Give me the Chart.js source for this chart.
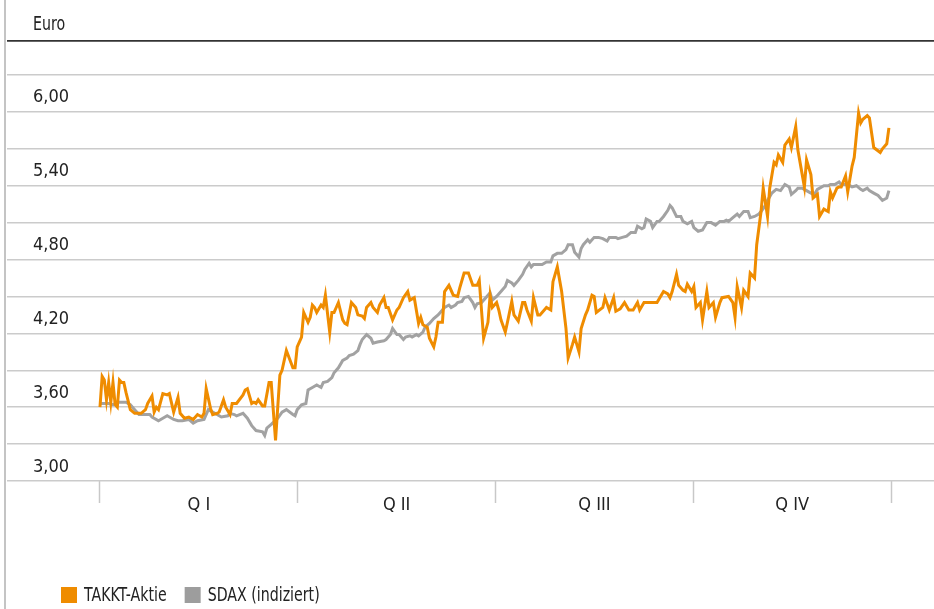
<!DOCTYPE html>
<html>
<head>
<meta charset="utf-8">
<script src="https://cdn.jsdelivr.net/npm/chart.js@4.4.1/dist/chart.umd.min.js"></script>
<style>
  html, body { margin: 0; padding: 0; background: #fff; }
  canvas { display: block; }
</style>
</head>
<body>
<canvas id="Graph" width="934" height="609"></canvas>
<script>
const FONT = "'DejaVu Sans Condensed', 'Liberation Sans', sans-serif";
const SQUEEZE = 0.83; // the original uses a very narrow face

const seriesNames = ['TAKKT-Aktie', 'SDAX (indiziert)'];
const quarterLabels = ['Q I', 'Q II', 'Q III', 'Q IV'];
const yTickLabels = ['3,00', '3,60', '4,20', '4,80', '5,40', '6,00'];

// day of year -> closing price in euro
const takktDays = [0,1,2,3,4,5,6,7,8,9,10,11,12,14,16,19,21,22,24,25,26,27,29,31,32,34,36,37,39,41,43,45,47,48,49,51,52,54,55,57,58,60,61,63,66,67,68,70,71,72,73,75,76,78,79,81,83,84,86,89,90,91,93,94,96,97,98,99,100,102,103,104,106,107,108,109,110,112,113,114,116,118,119,121,122,123,125,126,128,129,131,132,133,135,137,138,140,142,143,145,147,148,149,151,152,154,155,156,158,159,161,163,165,166,168,170,172,174,175,177,179,180,181,183,184,185,187,188,190,191,193,195,196,197,199,200,202,203,205,206,208,209,211,213,215,216,218,219,221,222,224,225,227,228,229,232,233,235,237,238,240,242,244,246,248,249,251,253,257,260,262,263,264,266,267,269,270,271,273,274,275,277,278,280,281,283,284,286,287,290,292,293,294,296,297,299,300,302,303,305,306,308,309,311,312,313,315,316,318,319,321,322,324,325,326,328,329,331,332,334,336,337,338,340,341,342,344,345,347,348,350,351,352,354,355,357,360,361,363,364];
const takktEuro = [3.60,3.85,3.82,3.66,3.80,3.64,3.80,3.62,3.60,3.82,3.80,3.80,3.72,3.58,3.55,3.55,3.58,3.63,3.69,3.56,3.60,3.58,3.71,3.70,3.71,3.56,3.68,3.55,3.51,3.52,3.50,3.54,3.52,3.55,3.75,3.59,3.54,3.55,3.56,3.66,3.60,3.54,3.63,3.63,3.70,3.74,3.75,3.63,3.64,3.63,3.66,3.61,3.61,3.80,3.80,3.33,3.86,3.90,4.06,3.92,3.92,4.09,4.17,4.37,4.29,4.33,4.43,4.41,4.37,4.43,4.41,4.51,4.21,4.37,4.37,4.41,4.45,4.31,4.28,4.27,4.45,4.41,4.35,4.34,4.32,4.41,4.45,4.41,4.37,4.43,4.49,4.41,4.41,4.31,4.39,4.41,4.49,4.54,4.47,4.49,4.28,4.33,4.27,4.25,4.16,4.09,4.17,4.29,4.29,4.54,4.59,4.51,4.50,4.57,4.69,4.69,4.59,4.59,4.63,4.16,4.29,4.51,4.41,4.45,4.39,4.31,4.21,4.29,4.46,4.35,4.30,4.45,4.45,4.39,4.30,4.49,4.35,4.35,4.39,4.41,4.39,4.62,4.74,4.54,4.24,4.00,4.11,4.17,4.05,4.24,4.35,4.39,4.51,4.50,4.37,4.41,4.49,4.39,4.49,4.38,4.40,4.45,4.39,4.39,4.45,4.39,4.45,4.45,4.45,4.54,4.52,4.49,4.54,4.68,4.59,4.55,4.54,4.60,4.54,4.58,4.41,4.45,4.31,4.54,4.41,4.45,4.33,4.45,4.49,4.50,4.45,4.33,4.58,4.41,4.55,4.50,4.69,4.65,4.92,5.19,5.38,5.15,5.38,5.59,5.57,5.65,5.59,5.73,5.78,5.71,5.88,5.69,5.49,5.39,5.61,5.49,5.30,5.33,5.15,5.21,5.19,5.35,5.30,5.38,5.39,5.39,5.48,5.35,5.56,5.63,5.99,5.91,5.94,5.97,5.95,5.71,5.67,5.70,5.74,5.87];

const sdaxDays = [0,1,4,6,8,12,14,16,18,21,23,24,27,29,31,34,36,38,41,43,45,48,50,52,54,56,59,60,62,63,66,68,70,72,75,76,77,79,82,84,86,89,90,91,93,95,96,98,100,102,103,105,107,108,110,112,114,115,117,119,120,121,123,125,126,128,131,132,134,135,137,138,140,141,143,144,146,147,149,150,152,154,156,157,159,161,162,164,165,167,168,170,172,173,174,176,178,180,181,183,185,187,188,190,191,193,195,196,198,199,200,202,204,206,208,209,211,213,215,216,218,219,221,222,223,225,226,228,230,232,234,235,238,239,241,243,245,247,248,250,251,252,254,255,257,258,260,262,263,264,266,268,269,271,273,274,276,278,280,282,284,286,288,289,290,292,294,295,297,299,300,302,304,305,307,308,310,312,314,316,318,319,321,322,324,325,327,329,330,331,334,336,337,339,341,342,345,347,349,351,352,354,355,357,359,361,363,364];
const sdaxEuro = [3.63,3.63,3.63,3.62,3.64,3.64,3.62,3.58,3.54,3.54,3.54,3.52,3.49,3.51,3.53,3.50,3.49,3.49,3.50,3.47,3.49,3.50,3.58,3.56,3.54,3.52,3.53,3.55,3.54,3.53,3.55,3.51,3.45,3.41,3.40,3.37,3.43,3.46,3.51,3.56,3.58,3.54,3.53,3.58,3.62,3.63,3.74,3.76,3.78,3.76,3.80,3.81,3.84,3.88,3.92,3.98,4.00,4.02,4.03,4.06,4.11,4.15,4.19,4.16,4.12,4.13,4.14,4.15,4.19,4.24,4.19,4.19,4.15,4.17,4.18,4.17,4.19,4.18,4.21,4.25,4.28,4.32,4.35,4.37,4.41,4.43,4.41,4.43,4.45,4.46,4.49,4.50,4.45,4.41,4.44,4.45,4.49,4.53,4.47,4.50,4.54,4.58,4.63,4.61,4.59,4.63,4.68,4.72,4.77,4.74,4.76,4.76,4.76,4.78,4.78,4.83,4.85,4.85,4.88,4.92,4.92,4.86,4.82,4.89,4.92,4.96,4.94,4.98,4.98,4.97,4.95,4.98,4.98,4.97,4.98,4.99,5.02,5.02,5.07,5.05,5.06,5.13,5.11,5.06,5.11,5.11,5.15,5.20,5.24,5.22,5.15,5.15,5.11,5.09,5.11,5.06,5.03,5.04,5.10,5.10,5.08,5.11,5.11,5.12,5.11,5.14,5.17,5.15,5.19,5.19,5.14,5.15,5.17,5.19,5.24,5.28,5.34,5.37,5.36,5.41,5.39,5.33,5.36,5.38,5.38,5.37,5.35,5.33,5.34,5.37,5.40,5.40,5.41,5.41,5.43,5.41,5.41,5.39,5.40,5.37,5.36,5.38,5.36,5.34,5.32,5.28,5.30,5.36];

const YEAR_END = 365;
const X_MIN = -42.9, X_MAX = 384.8;
const Y_MIN = 3.0, Y_MAX = 6.576;

const toPoints = (days, vals) => days.map((d, i) => ({ x: d, y: vals[i] }));

// narrow text, drawn squeezed horizontally; returns advance width
function narrowText(c, text, x, y) {
  c.save();
  c.translate(x, y);
  c.scale(SQUEEZE, 1);
  c.fillText(text, 0, 0);
  c.restore();
  return c.measureText(text).width * SQUEEZE;
}

const framePlugin = {
  id: 'frame',
  beforeDraw(chart) {
    const c = chart.ctx;
    c.save();
    c.fillStyle = '#c4c4c4';
    c.fillRect(4, 0, 2, chart.height);
    c.fillStyle = '#222';
    c.font = `19px ${FONT}`;
    c.textBaseline = 'middle';
    narrowText(c, 'Euro', 33, 25);
    c.restore();
  }
};

const legendPlugin = {
  id: 'bottomLegend',
  afterDraw(chart) {
    const c = chart.ctx;
    let x = 61;
    const y = 595;
    c.save();
    c.font = `19px ${FONT}`;
    c.textBaseline = 'middle';
    chart.data.datasets.forEach(ds => {
      c.fillStyle = ds.legendColor;
      c.fillRect(x, y - 8, 16, 16);
      x += 23;
      c.fillStyle = '#222';
      x += narrowText(c, ds.label, x, y + 1) + 18;
    });
    c.restore();
  }
};

new Chart(document.getElementById('Graph'), {
  type: 'line',
  data: {
    datasets: [
      {
        label: seriesNames[0],
        data: toPoints(takktDays, takktEuro),
        borderColor: '#ef8c00',
        legendColor: '#ef8c00',
        borderWidth: 3,
        pointRadius: 0,
        tension: 0
      },
      {
        label: seriesNames[1],
        data: toPoints(sdaxDays, sdaxEuro),
        borderColor: '#a2a2a2',
        legendColor: '#9d9d9d',
        borderWidth: 3,
        pointRadius: 0,
        tension: 0
      }
    ]
  },
  options: {
    responsive: false,
    animation: false,
    devicePixelRatio: 1,
    layout: { padding: { left: 7, top: 41, right: 0, bottom: 0 } },
    plugins: { legend: { display: false }, tooltip: { enabled: false } },
    scales: {
      x: {
        type: 'linear',
        min: X_MIN,
        max: X_MAX,
        afterBuildTicks: scale => {
          const q = YEAR_END / 4;
          const t = [];
          for (let i = 0; i <= 4; i++) t.push({ value: i * q });
          quarterLabels.forEach((l, i) => t.push({ value: (i + 0.5) * q, txt: l }));
          scale.ticks = t.sort((a, b) => a.value - b.value);
        },
        afterFit: scale => { scale.height = 128; },
        border: { display: false },
        grid: {
          drawOnChartArea: false,
          drawTicks: true,
          tickLength: 22,
          tickWidth: 1.5,
          tickColor: ctx => (ctx.tick && ctx.tick.txt) ? 'transparent' : '#c8c8c8'
        },
        ticks: {
          autoSkip: false,
          maxRotation: 0,
          padding: -8,
          color: '#222',
          font: { family: FONT, size: 18 },
          callback: (v, i, ticks) => ticks[i].txt || ''
        }
      },
      y: {
        type: 'linear',
        min: Y_MIN,
        max: Y_MAX,
        afterBuildTicks: scale => {
          const t = [];
          for (let i = 0; i <= 11; i++) t.push({ value: Y_MIN + i * 0.3 });
          yTickLabels.forEach(l => t.push({ value: parseFloat(l.replace(',', '.')) + 0.115, txt: l }));
          t.push({ value: Y_MAX, top: true });
          scale.ticks = t.sort((a, b) => a.value - b.value);
        },
        afterFit: scale => { scale.width = 0; },
        border: { display: false },
        grid: {
          drawTicks: false,
          color: ctx => ctx.tick.txt ? 'transparent' : (ctx.tick.top ? '#333333' : '#cbcbcb'),
          lineWidth: ctx => ctx.tick.top ? 1.8 : 1.5
        },
        ticks: {
          autoSkip: false,
          mirror: true,
          padding: 26,
          color: '#222',
          font: { family: FONT, size: 18 },
          callback: (v, i, ticks) => ticks[i].txt || ''
        }
      }
    }
  },
  plugins: [framePlugin, legendPlugin]
});
</script>
</body>
</html>
